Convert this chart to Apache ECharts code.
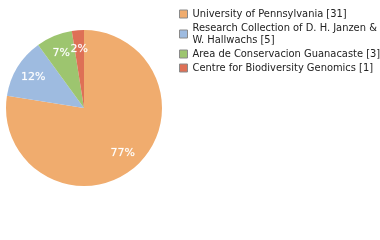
<!DOCTYPE html>
<html>
<head>
<meta charset="utf-8">
<script src="https://cdn.jsdelivr.net/npm/echarts@6/dist/echarts.min.js"></script>
<style>
html, body { margin: 0; padding: 0; background: #fff; }
#chart { width: 380px; height: 240px; }
</style>
</head>
<body>
<div id="chart"></div>
<script>
// data
var legendNames = ['University of Pennsylvania [31]', 'Research Collection of D. H. Janzen &\nW. Hallwachs [5]', 'Area de Conservacion Guanacaste [3]', 'Centre for Biodiversity Genomics [1]'];
var counts = [31, 5, 3, 1];
var colors = ['#f0ac6e', '#9ebbe0', '#9dc56f', '#de7056'];

var pieData = counts.map(function (v, i) {
	return { name: legendNames[i], value: v, itemStyle: { color: colors[i] } };
});

var option = {
	animation: false,
	legend: {
		orient: 'vertical',
		left: 174,
		top: 3,
		itemWidth: 8,
		itemHeight: 8,
		itemGap: 2,
		icon: 'rect',
		itemStyle: { borderColor: '#8a8a8a', borderWidth: 1 },
		textStyle: {
			fontFamily: 'DejaVu Sans Condensed, DejaVu Sans',
			fontSize: 11,
			lineHeight: 12,
			color: '#222'
		},
		data: legendNames
	},
	series: [{
		type: 'pie',
		center: [84, 108],
		radius: [0, 78],
		startAngle: 90,
		clockwise: true,
		label: { show: false },
		labelLine: { show: false },
		emphasis: { disabled: true },
		data: pieData
	}, {
		// transparent ring only for placing the percent labels further out
		type: 'pie',
		center: [84, 108],
		radius: [35, 78],
		startAngle: 90,
		clockwise: true,
		silent: true,
		legendHoverLink: false,
		avoidLabelOverlap: false,
		itemStyle: { color: 'rgba(0,0,0,0)' },
		label: {
			show: true,
			position: 'inside',
			color: '#fff',
			fontFamily: 'DejaVu Sans',
			fontSize: 11,
			textBorderColor: 'rgba(255,255,255,0.35)',
			textBorderWidth: 0.5,
			formatter: function (p) { return Math.floor(p.percent) + '%'; }
		},
		labelLine: { show: false },
		emphasis: { disabled: true },
		data: counts.map(function (v, i) { return { name: legendNames[i], value: v }; })
	}]
};

var myChart = echarts.init(document.getElementById('chart'));
myChart.setOption(option, true);
</script>
</body>
</html>
